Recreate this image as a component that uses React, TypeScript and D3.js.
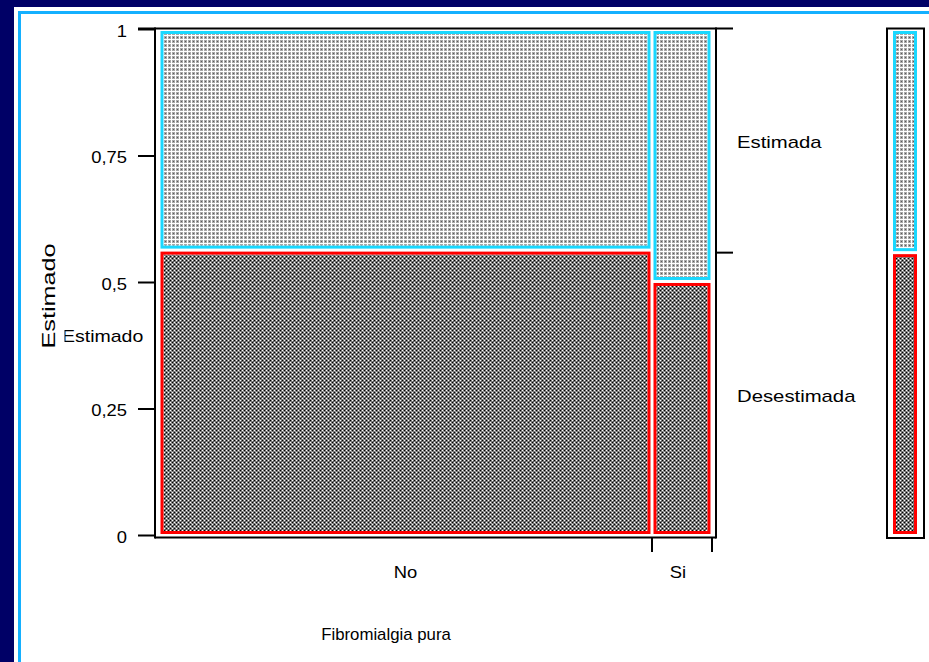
import React from "react";
import * as d3 from "d3";

// ---- data ----
const categories = ["No", "Si"];
const columnShares = [0.8915, 0.1085];
const responses = ["Desestimada", "Estimada"];
const desestimadaShare = [0.564, 0.502];
const marginalDesestimada = 0.559;
const yTickValues = [0, 0.25, 0.5, 0.75, 1];
const yTickLabels = ["0", "0,25", "0,5", "0,75", "1"];
const xTitle = "Fibromialgia pura";
const yTitle = "Estimado";

const W = 929;
const H = 662;
const FONT = "'Liberation Sans', Arial, Helvetica, sans-serif";
const NAVY = "#000066";
const FRAME = "#14b0ff";
const CYAN = "#1ad8ff";
const RED = "#ff0000";

function T({ x, y, anchor = "start", size = 16, sx = 1.15, children }: any) {
  return (
    <text
      transform={`translate(${x},${y}) scale(${sx},1)`}
      textAnchor={anchor}
      fontSize={size}
      fontFamily={FONT}
      fill="#000"
    >
      {children}
    </text>
  );
}

export default function App() {
  const x = d3.scaleLinear().domain([0, 1]).range([159, 712]);
  const y = d3.scaleLinear().domain([0, 1]).range([535.5, 29.5]);

  const cum = [0];
  columnShares.forEach((s, i) => cum.push(cum[i] + s));

  const inset = 1.5;
  const sw = 3;

  const cells: any[] = [];
  categories.forEach((c, i) => {
    const x0 = x(cum[i]) + inset;
    const x1 = x(cum[i + 1]) - inset;
    const split = desestimadaShare[i];
    cells.push({ key: c + "-d", x0, x1, y0: y(split) + inset, y1: y(0) - inset, stroke: RED, fill: "url(#darkPat)" });
    cells.push({ key: c + "-e", x0, x1, y0: y(1) + inset, y1: y(split) - inset, stroke: CYAN, fill: "url(#lightPat)" });
  });

  const mx0 = 893;
  const mx1 = 917;
  const mCells = [
    { key: "m-d", x0: mx0, x1: mx1, y0: y(marginalDesestimada) + inset, y1: y(0) - inset, stroke: RED, fill: "url(#darkPat)" },
    { key: "m-e", x0: mx0, x1: mx1, y0: y(1) + inset, y1: y(marginalDesestimada) - inset, stroke: CYAN, fill: "url(#lightPat)" },
  ];

  const drawCell = (c: any) => (
    <g key={c.key}>
      <rect
        x={c.x0 + sw}
        y={c.y0 + sw}
        width={Math.max(0, c.x1 - c.x0 - 2 * sw)}
        height={Math.max(0, c.y1 - c.y0 - 2 * sw)}
        fill={c.fill}
      />
      <rect
        x={c.x0 + sw / 2}
        y={c.y0 + sw / 2}
        width={c.x1 - c.x0 - sw}
        height={c.y1 - c.y0 - sw}
        fill="none"
        stroke={c.stroke}
        strokeWidth={sw}
      />
    </g>
  );

  const axisX = 155;
  const rightX = 716;
  const topY = 28.5;
  const botY = 537.5;

  return (
    <svg
      width={W}
      height={H}
      style={{ position: "fixed", left: 0, top: 0, display: "block" }}
    >
      <defs>
        <pattern id="lightPat" width={4} height={4} patternUnits="userSpaceOnUse">
          <rect width={4} height={4} fill="#ffffff" />
          <rect width={3} height={3} fill="#a8a8a8" />
          <rect x={1} y={1} width={1} height={1} fill="#5a5a5a" />
        </pattern>
        <pattern id="darkPat" width={4} height={4} patternUnits="userSpaceOnUse">
          <rect width={4} height={4} fill="#7a7a7a" />
          <rect x={0} y={0} width={1} height={1} fill="#ffffff" />
          <rect x={2} y={2} width={1} height={1} fill="#ffffff" />
          <rect x={2} y={0} width={1} height={1} fill="#000000" />
          <rect x={0} y={2} width={1} height={1} fill="#000000" />
          <rect x={1} y={1} width={1} height={1} fill="#555555" />
          <rect x={3} y={3} width={1} height={1} fill="#a0a0a0" />
        </pattern>
      </defs>

      <rect x={0} y={0} width={W} height={H} fill={NAVY} />
      <rect x={14} y={7} width={W} height={H} fill="#fff" />
      <rect x={19.5} y={12.5} width={W} height={H} fill="none" stroke={FRAME} strokeWidth={3} />

      {cells.map(drawCell)}
      {mCells.map(drawCell)}
      <rect x={887} y={28.5} width={37} height={509.5} fill="none" stroke="#000" strokeWidth={2} />

      <g stroke="#000" strokeWidth={2} fill="none">
        <line x1={axisX} x2={axisX} y1={topY - 1} y2={botY + 1} />
        <line x1={138} x2={733} y1={topY} y2={topY} />
        <line x1={rightX} x2={rightX} y1={topY - 1} y2={botY + 1} />
        <line x1={axisX} x2={rightX} y1={botY} y2={botY} />
        {yTickValues.map((v) => (
          <line key={"yt" + v} x1={138} x2={axisX} y1={y(v)} y2={y(v)} />
        ))}
        <line x1={rightX} x2={733} y1={y(marginalDesestimada)} y2={y(marginalDesestimada)} />
        {cum.slice(1).map((c, i) => (
          <line key={"xt" + i} x1={x(c)} x2={x(c)} y1={botY} y2={552} />
        ))}
      </g>

      {yTickValues.map((v, i) => (
        <T key={"yl" + v} x={127} y={y(v) + 7} anchor="end">
          {yTickLabels[i]}
        </T>
      ))}

      {categories.map((c, i) => (
        <T key={"xl" + c} x={(x(cum[i]) + x(cum[i + 1])) / 2 - (i === 1 ? 4 : 0)} y={578} anchor="middle">
          {c}
        </T>
      ))}

      <T x={737} y={148} sx={1.27}>{responses[1]}</T>
      <T x={737} y={402} sx={1.27}>{responses[0]}</T>

      <T x={386} y={640} anchor="middle" sx={1.05}>{xTitle}</T>
      <T x={62} y={342} sx={1.22}>{yTitle}</T>
      <rect x={36} y={240} width={28.5} height={112} fill="#fff" />
      <text
        transform="translate(55,296) rotate(-90)"
        textAnchor="middle"
        fontSize={18}
        fontFamily={FONT}
        textLength={105}
        lengthAdjust="spacingAndGlyphs"
        fill="#000"
      >
        {yTitle}
      </text>
    </svg>
  );
}
